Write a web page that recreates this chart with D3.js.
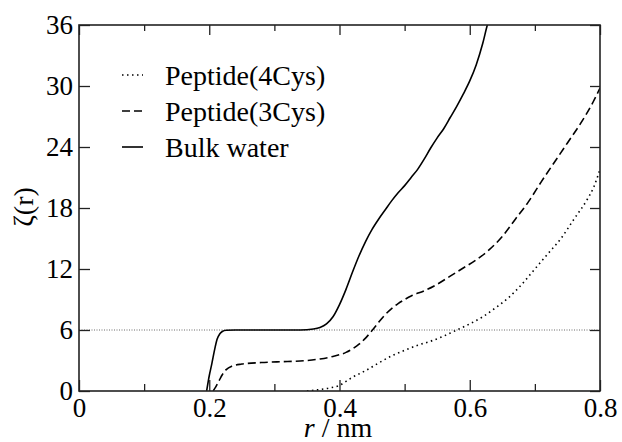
<!DOCTYPE html>
<html>
<head>
<meta charset="utf-8">
<script src="https://cdn.jsdelivr.net/npm/d3@7"></script>
<style>
  body { margin: 0; background: #fff; }
</style>
</head>
<body>
<script>
var margin = {top: 25, right: 22, bottom: 51, left: 79},
    width = 622 - margin.left - margin.right,
    height = 442 - margin.top - margin.bottom;

var serif = "'Liberation Serif', 'DejaVu Serif', 'Times New Roman', serif";

// ticks
var rTicks = [0, 0.2, 0.4, 0.6, 0.8];
var rMinor = [0.1, 0.3, 0.5, 0.7];
var zTicks = [0, 6, 12, 18, 24, 30, 36];

// series: r (nm) and zeta(r)
var seriesNames = ["Peptide(4Cys)", "Peptide(3Cys)", "Bulk water"];
var seriesDash = ["1.5,3.5", "8,4", null];

var r4Cys = [0.35, 0.37, 0.385, 0.40, 0.41, 0.42, 0.44, 0.46, 0.48, 0.50, 0.52, 0.54, 0.56, 0.58, 0.60, 0.62, 0.64, 0.66, 0.68, 0.70, 0.72, 0.74, 0.76, 0.78, 0.79, 0.80];
var z4Cys = [0, 0.15, 0.3, 0.55, 0.95, 1.35, 2.0, 2.75, 3.45, 4.0, 4.5, 4.9, 5.4, 6.0, 6.6, 7.3, 8.2, 9.2, 10.5, 12.0, 13.5, 15.0, 16.9, 18.8, 20.0, 21.8];

var r3Cys = [0.206, 0.210, 0.215, 0.220, 0.226, 0.235, 0.25, 0.28, 0.32, 0.35, 0.37, 0.39, 0.41, 0.42, 0.43, 0.44, 0.45, 0.46, 0.47, 0.48, 0.49, 0.50, 0.51, 0.53, 0.55, 0.57, 0.59, 0.61, 0.63, 0.65, 0.67, 0.69, 0.71, 0.73, 0.75, 0.77, 0.79, 0.80];
var z3Cys = [0, 0.4, 1.0, 1.6, 2.1, 2.45, 2.65, 2.8, 2.9, 3.0, 3.15, 3.4, 3.8, 4.15, 4.6, 5.2, 5.95, 6.75, 7.5, 8.1, 8.6, 9.0, 9.35, 9.85, 10.5, 11.3, 12.1, 12.9, 13.9, 15.2, 16.9, 18.6, 20.6, 22.5, 24.4, 26.3, 28.5, 29.8];

var rBulk = [0.196, 0.200, 0.204, 0.208, 0.212, 0.216, 0.220, 0.226, 0.24, 0.30, 0.34, 0.36, 0.37, 0.38, 0.39, 0.40, 0.41, 0.42, 0.43, 0.44, 0.45, 0.46, 0.47, 0.48, 0.49, 0.50, 0.51, 0.52, 0.53, 0.54, 0.55, 0.56, 0.57, 0.58, 0.59, 0.60, 0.61, 0.62, 0.627, 0.635];
var zBulk = [0, 1.5, 2.7, 4.0, 5.1, 5.6, 5.85, 5.97, 6.0, 6.0, 6.0, 6.1, 6.25, 6.6, 7.3, 8.5, 10.0, 11.7, 13.3, 14.7, 15.9, 16.9, 17.8, 18.7, 19.5, 20.2, 21.0, 21.8, 22.8, 23.9, 24.9, 25.8, 26.9, 28.0, 29.2, 30.5, 32.1, 34.2, 36, 37.5];

var refLevel = 6;

var series = [
  {r: r4Cys, z: z4Cys},
  {r: r3Cys, z: z3Cys},
  {r: rBulk, z: zBulk}
];

var svg = d3.select("body").append("svg")
  .attr("width", 622)
  .attr("height", 442)
  .style("font-family", serif);

var g = svg.append("g")
  .attr("transform", "translate(" + margin.left + "," + margin.top + ")");

var x = d3.scaleLinear().domain([0, 0.8]).range([0, width]);
var y = d3.scaleLinear().domain([0, 36]).range([height, 0]);

g.append("clipPath").attr("id", "clip")
  .append("rect").attr("width", width).attr("height", height);

// reference line at 6
g.append("line")
  .attr("x1", 0).attr("x2", width)
  .attr("y1", y(refLevel)).attr("y2", y(refLevel))
  .attr("stroke", "#444").attr("stroke-width", 0.8)
  .attr("stroke-dasharray", "1,1.5");

var line = d3.line()
  .x(function(d) { return x(d[0]); })
  .y(function(d) { return y(d[1]); })
  .curve(d3.curveMonotoneX);

series.forEach(function(s, i) {
  var pts = s.r.map(function(v, j) { return [v, s.z[j]]; });
  g.append("path")
    .datum(pts)
    .attr("clip-path", "url(#clip)")
    .attr("fill", "none")
    .attr("stroke", "#000")
    .attr("stroke-width", 1.6)
    .attr("stroke-dasharray", seriesDash[i])
    .attr("d", line);
});

// axes
function styleAxis(sel) {
  sel.attr("font-family", serif);
  sel.select(".domain").remove();
  sel.selectAll("line").attr("stroke", "#222").attr("stroke-width", 1.3);
  sel.selectAll("text").attr("fill", "#000").style("font-family", serif).style("font-size", "27px");
}

g.append("g")
  .attr("transform", "translate(0," + height + ")")
  .call(d3.axisBottom(x).tickValues(rTicks).tickSize(-11).tickPadding(7)
    .tickFormat(function(d) { return d === 0 ? "0" : d3.format(".1f")(d); }))
  .call(styleAxis);
g.append("g")
  .attr("transform", "translate(0," + height + ")")
  .call(d3.axisBottom(x).tickValues(rMinor).tickSize(-7).tickFormat(""))
  .call(styleAxis);
g.append("g")
  .call(d3.axisTop(x).tickValues(rTicks).tickSize(-10).tickFormat(""))
  .call(styleAxis);
g.append("g")
  .call(d3.axisTop(x).tickValues(rMinor).tickSize(-6).tickFormat(""))
  .call(styleAxis);
g.append("g")
  .call(d3.axisLeft(y).tickValues(zTicks).tickSize(-11).tickPadding(6).tickFormat(d3.format("d")))
  .call(styleAxis);
g.append("g")
  .attr("transform", "translate(" + width + ",0)")
  .call(d3.axisRight(y).tickValues(zTicks).tickSize(-10).tickFormat(""))
  .call(styleAxis);

// frame
g.append("rect")
  .attr("width", width).attr("height", height)
  .attr("fill", "none").attr("stroke", "#222").attr("stroke-width", 1.6);

// axis titles
var xt = svg.append("text")
  .attr("x", 338).attr("y", 437)
  .attr("text-anchor", "middle")
  .style("font-family", serif)
  .style("font-size", "28px");
xt.append("tspan").attr("font-style", "italic").text("r");
xt.append("tspan").text(" / nm");

svg.append("text")
  .attr("transform", "translate(33,207) rotate(-90)")
  .attr("text-anchor", "middle")
  .style("font-family", serif)
  .style("font-size", "28px")
  .text("ζ(r)");

// legend
var legend = g.append("g").attr("transform", "translate(" + (122 - margin.left) + "," + (75 - margin.top) + ")");
seriesNames.forEach(function(name, i) {
  var row = legend.append("g").attr("transform", "translate(0," + (i * 36) + ")");
  row.append("line")
    .attr("x1", 0).attr("x2", 21)
    .attr("stroke", "#000").attr("stroke-width", 1.6)
    .attr("stroke-dasharray", seriesDash[i]);
  row.append("text")
    .attr("x", 43).attr("y", 10)
    .style("font-family", serif)
    .style("font-size", "28px")
    .text(name);
});
</script>
</body>
</html>
